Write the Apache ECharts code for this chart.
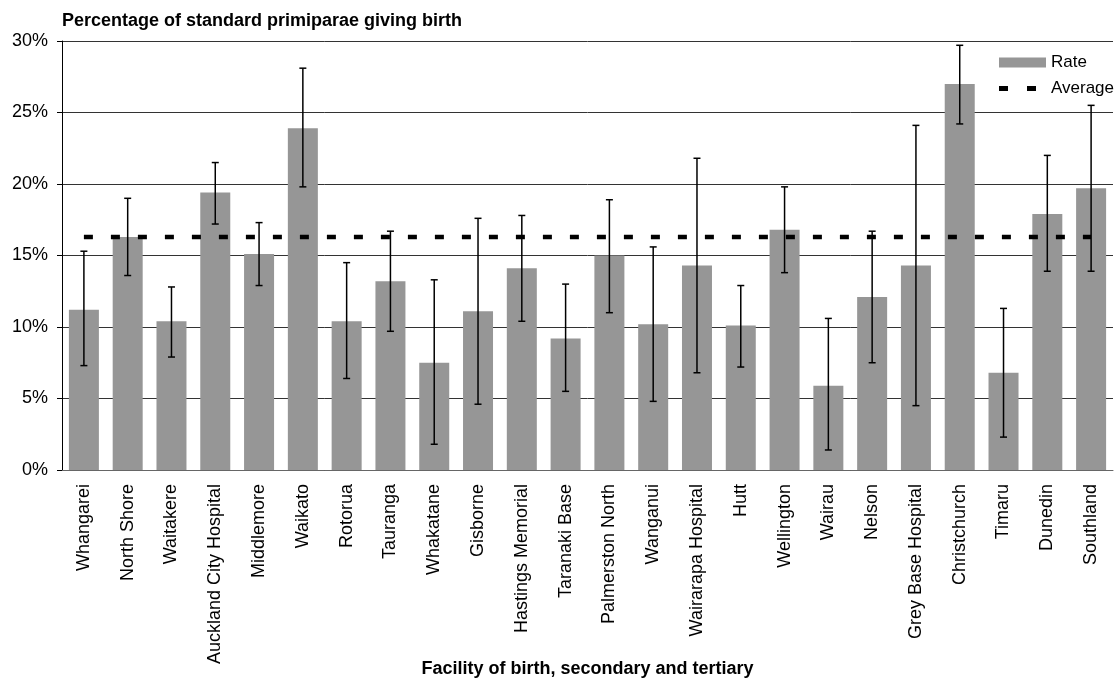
<!DOCTYPE html>
<html>
<head>
<meta charset="utf-8">
<script src="https://cdn.jsdelivr.net/npm/echarts@6/dist/echarts.min.js"></script>
<style>
html,body{margin:0;padding:0;background:#fff;}
#chart{width:1115px;height:679px;}
</style>
</head>
<body>
<div id="chart"></div>
<script>
const categories = ['Whangarei','North Shore','Waitakere','Auckland City Hospital','Middlemore','Waikato','Rotorua','Tauranga','Whakatane','Gisborne','Hastings Memorial','Taranaki Base','Palmerston North','Wanganui','Wairarapa Hospital','Hutt','Wellington','Wairau','Nelson','Grey Base Hospital','Christchurch','Timaru','Dunedin','Southland'];
const rate  = [11.2, 16.3, 10.4, 19.4, 15.1, 23.9, 10.4, 13.2, 7.5, 11.1, 14.1, 9.2, 15.0, 10.2, 14.3, 10.1, 16.8, 5.9, 12.1, 14.3, 27.0, 6.8, 17.9, 19.7];
const lower = [7.3, 13.6, 7.9, 17.2, 12.9, 19.8, 6.4, 9.7, 1.8, 4.6, 10.4, 5.5, 11.0, 4.8, 6.8, 7.2, 13.8, 1.4, 7.5, 4.5, 24.2, 2.3, 13.9, 13.9];
const upper = [15.3, 19.0, 12.8, 21.5, 17.3, 28.1, 14.5, 16.7, 13.3, 17.6, 17.8, 13.0, 18.9, 15.6, 21.8, 12.9, 19.8, 10.6, 16.7, 24.1, 29.7, 11.3, 22.0, 25.5];
const average = 16.3;
const yTicks = [0, 5, 10, 15, 20, 25, 30];

const FONT = '"Liberation Sans", Arial, sans-serif';
const chart = echarts.init(document.getElementById('chart'), null, {renderer: 'canvas'});

const errData = categories.map((c, i) => [i, lower[i], upper[i]]);
const avgData = categories.map(() => average);
const dashIcon = 'path://M0,2.5H9V7.5H0Z M28,2.5H37V7.5H28Z M46.95,0H47V0.05H46.95Z M0,9.95H0.05V10H0Z';

chart.setOption({
  animation: false,
  backgroundColor: '#fff',
  textStyle: {fontFamily: FONT},
  title: {
    text: 'Percentage of standard primiparae giving birth',
    left: 57, top: 7,
    textStyle: {fontFamily: FONT, fontSize: 18, fontWeight: 'bold', color: '#000'}
  },
  legend: {
    orient: 'vertical',
    left: 999, top: 54,
    padding: 0,
    itemWidth: 47, itemHeight: 10, itemGap: 9,
    textStyle: {fontFamily: FONT, fontSize: 17, color: '#000'},
    data: [{name: 'Rate', icon: 'rect'}, {name: 'Average', icon: dashIcon, itemStyle: {color: '#000'}}]
  },
  grid: {left: 62, right: 2, top: 41, bottom: 209, containLabel: false, outerBoundsMode: 'none'},
  xAxis: {
    type: 'category',
    data: categories,
    name: 'Facility of birth, secondary and tertiary',
    nameLocation: 'middle',
    nameGap: 190,
    nameMoveOverlap: false,
    nameTextStyle: {fontFamily: FONT, fontSize: 18, fontWeight: 'bold', color: '#000'},
    axisLine: {lineStyle: {color: '#666', width: 1}},
    axisTick: {show: false},
    axisLabel: {rotate: 90, interval: 0, margin: 14, fontFamily: FONT, fontSize: 18, color: '#000'}
  },
  yAxis: {
    type: 'value',
    min: yTicks[0], max: yTicks[yTicks.length - 1], interval: 5,
    axisLine: {show: true, lineStyle: {color: '#000', width: 1}},
    axisTick: {show: true, length: 5, lineStyle: {color: '#000'}},
    axisLabel: {margin: 14, fontFamily: FONT, fontSize: 18, color: '#000', formatter: '{value}%'},
    splitLine: {lineStyle: {color: '#333', width: 1}}
  },
  series: [
    {
      name: 'Rate', type: 'bar', data: rate, barWidth: 30,
      itemStyle: {color: '#969696'}
    },
    {
      name: 'Average', type: 'line', data: avgData, symbol: 'none',
      lineStyle: {color: '#000', width: 4.5, type: [9, 18]},
      itemStyle: {color: '#000'},
      z: 5
    },
    {
      name: 'Error', type: 'custom', data: errData, z: 6,
      renderItem: function (params, api) {
        const idx = api.value(0);
        const lo = api.coord([idx, api.value(1)]);
        const hi = api.coord([idx, api.value(2)]);
        const x = lo[0];
        const hw = 3.5;
        const style = {stroke: '#000', lineWidth: 1.5};
        return {
          type: 'group',
          children: [
            {type: 'line', shape: {x1: x, y1: lo[1], x2: x, y2: hi[1]}, style: style},
            {type: 'line', shape: {x1: x - hw, y1: lo[1], x2: x + hw, y2: lo[1]}, style: style},
            {type: 'line', shape: {x1: x - hw, y1: hi[1], x2: x + hw, y2: hi[1]}, style: style}
          ]
        };
      }
    }
  ]
});
</script>
</body>
</html>
